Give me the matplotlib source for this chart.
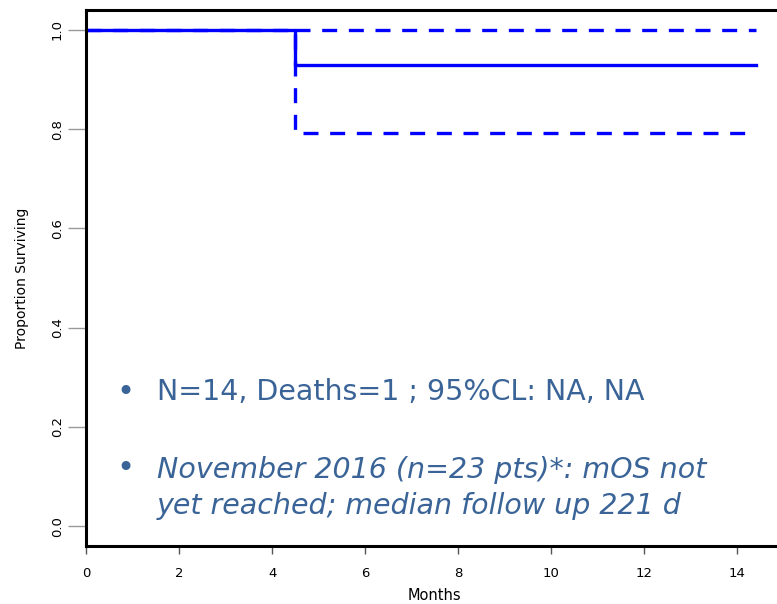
import matplotlib.pyplot as plt

months = [0, 4.5, 14.4]
surv = [1.0, 0.929, 0.929]
upper_cl = [1.0, 1.0, 1.0]
lower_cl = [1.0, 0.793, 0.793]

x_ticks = [0, 2, 4, 6, 8, 10, 12, 14]
y_ticks = [0.0, 0.2, 0.4, 0.6, 0.8, 1.0]

note_1 = 'N=14, Deaths=1 ; 95%CL: NA, NA'
note_2 = 'November 2016 (n=23 pts)*: mOS not\nyet reached; median follow up 221 d'

blue = '#0000ff'
text_blue = '#3a6497'

fig = plt.figure(figsize=(7.77, 6.04), dpi=100)
ax = fig.add_axes([86 / 777, 1 - 546 / 604, 0.898, 536 / 604])

ax.step(months[1:], upper_cl[1:], where='post', color=blue, lw=2.4, dashes=(4.5, 3.5))
ax.step(months, lower_cl, where='post', color=blue, lw=2.4, dashes=(4.5, 3.5))
ax.step(months, surv, where='post', color=blue, lw=2.4)

ax.set_xlim(0, 15)
ax.set_ylim(-0.04, 1.04)
ax.set_xticks(x_ticks)
ax.set_yticks(y_ticks)
ax.set_yticklabels(['%.1f' % v for v in y_ticks], rotation=90, va='center')
for s in ax.spines.values():
    s.set_linewidth(2.2)
    s.set_color('black')
ax.tick_params(axis='x', length=6, width=1, color='#555555', labelsize=9.5, pad=9)
ax.tick_params(axis='y', length=13, width=1, color='#999999', labelsize=9.5, pad=3)
ax.set_xlabel('Months', fontsize=10.5, labelpad=6)
ax.set_ylabel('Proportion Surviving', fontsize=10, labelpad=16)

fig.text(125 / 777, 1 - 393 / 604, '\u2022', color=text_blue, fontsize=22, va='center', ha='center')
fig.text(157 / 777, 1 - 392 / 604, note_1, color=text_blue, fontsize=20.5,
         va='center', ha='left')
fig.text(125 / 777, 1 - 469 / 604, '\u2022', color=text_blue, fontsize=22, va='center', ha='center')
fig.text(157 / 777, 1 - 488 / 604, note_2, color=text_blue, fontsize=20.5,
         style='italic', va='center', ha='left', linespacing=1.35)

fig.savefig('out.png', dpi=100)
